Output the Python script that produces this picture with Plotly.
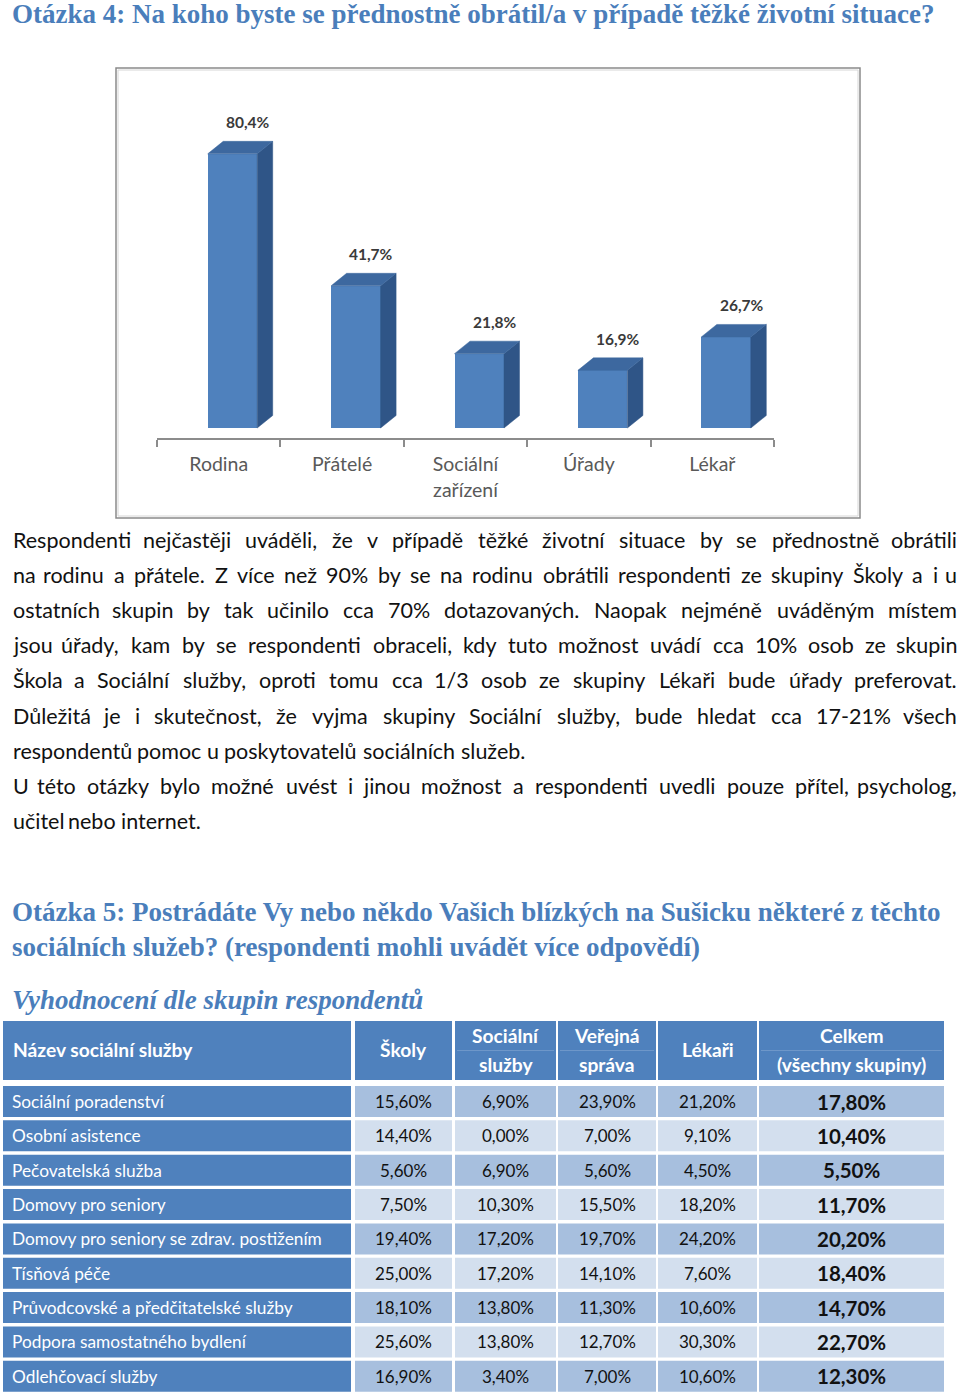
import unicodedata
import plotly.graph_objects as go

W, H = 960, 1398


def px(x):
    return x / W


def py(y):
    return 1 - y / H


# ---------------- data ----------------
q4_title = "Otázka 4: Na koho byste se přednostně obrátil/a v případě těžké životní situace?"
q4_categories = ["Rodina", "Přátelé", "Sociální<br>zařízení", "Úřady", "Lékař"]
q4_values = [80.4, 41.7, 21.8, 16.9, 26.7]

paragraph_lines = [
    "Respondenti nejčastěji uváděli, že v případě těžké životní situace by se přednostně obrátili",
    "na rodinu a přátele. Z více než 90% by se na rodinu obrátili respondenti ze skupiny Školy a i u",
    "ostatních skupin by tak učinilo cca 70% dotazovaných. Naopak nejméně uváděným místem",
    "jsou úřady, kam by se respondenti obraceli, kdy tuto možnost uvádí cca 10% osob ze skupin",
    "Škola a Sociální služby, oproti tomu cca 1/3 osob ze skupiny Lékaři bude úřady preferovat.",
    "Důležitá je i skutečnost, že vyjma skupiny Sociální služby, bude hledat cca 17-21% všech",
    "respondentů pomoc u poskytovatelů sociálních služeb.",
    "U této otázky bylo možné uvést i jinou možnost a respondenti uvedli pouze přítel, psycholog,",
    "učitel nebo internet.",
]
paragraph_justified = [True, True, True, True, True, True, False, True, False]

q5_title_lines = [
    "Otázka 5: Postrádáte Vy nebo někdo Vašich blízkých na Sušicku některé z těchto",
    "sociálních služeb? (respondenti mohli uvádět více odpovědí)",
]
q5_subtitle = "Vyhodnocení dle skupin respondentů"

table_header = ["Název sociální služby", "Školy", "Sociální<br>služby",
                "Veřejná<br>správa", "Lékaři", "Celkem<br>(všechny skupiny)"]
services = [
    "Sociální poradenství",
    "Osobní asistence",
    "Pečovatelská služba",
    "Domovy pro seniory",
    "Domovy pro seniory se zdrav. postižením",
    "Tísňová péče",
    "Průvodcovské a předčitatelské služby",
    "Podpora samostatného bydlení",
    "Odlehčovací služby",
]
skoly = [15.6, 14.4, 5.6, 7.5, 19.4, 25.0, 18.1, 25.6, 16.9]
socialni_sluzby = [6.9, 0.0, 6.9, 10.3, 17.2, 17.2, 13.8, 13.8, 3.4]
verejna_sprava = [23.9, 7.0, 5.6, 15.5, 19.7, 14.1, 11.3, 12.7, 7.0]
lekari = [21.2, 9.1, 4.5, 18.2, 24.2, 7.6, 10.6, 30.3, 10.6]
celkem = [17.8, 10.4, 5.5, 11.7, 20.2, 18.4, 14.7, 22.7, 12.3]

# ---------------- styles ----------------
BLUE = "#4F81BD"
HEAD_BLUE = "#4A7EBB"
ROW_DARK = "#A7BFDE"
ROW_LIGHT = "#D3DFEE"
SIDE = "#2F5587"
TOP = "#3D689F"
SANS = "Lato"
SERIF = "Liberation Serif"
HEAD_SIZE = 27

CW = {
    'a': .51, 'b': .56, 'c': .46, 'd': .56, 'e': .53, 'f': .32, 'g': .50, 'h': .56,
    'i': .24, 'j': .24, 'k': .50, 'l': .24, 'm': .85, 'n': .56, 'o': .56, 'p': .56,
    'q': .56, 'r': .37, 's': .43, 't': .35, 'u': .56, 'v': .51, 'w': .77, 'x': .50,
    'y': .51, 'z': .46,
    'A': .67, 'B': .63, 'C': .67, 'D': .74, 'E': .56, 'F': .54, 'G': .72, 'H': .75,
    'I': .28, 'J': .40, 'K': .65, 'L': .50, 'M': .90, 'N': .75, 'O': .79, 'P': .59,
    'Q': .79, 'R': .62, 'S': .53, 'T': .58, 'U': .72, 'V': .67, 'W': 1.0, 'X': .65,
    'Y': .62, 'Z': .60,
    ' ': .19, '.': .22, ',': .22, '%': .79, '/': .36, '-': .34, '?': .43,
    '(': .30, ')': .30, ':': .22,
}


def text_w(s, size):
    tot = 0.0
    for ch in s:
        base = unicodedata.normalize('NFD', ch)[0]
        tot += CW.get(base, 0.58 if base.isdigit() else 0.55)
    return tot * size


def pct(v):
    return f"{v:.2f}".replace('.', ',') + "%"


fig = go.Figure()
annotations = []
shapes = []

# ---------------- Question 4 heading ----------------
annotations.append(dict(text=f"<b>{q4_title}</b>", x=px(10), y=py(14), xref="paper", yref="paper",
                        xanchor="left", yanchor="middle", showarrow=False,
                        font=dict(family=SERIF, size=HEAD_SIZE, color=HEAD_BLUE)))

# ---------------- bar chart ----------------
unit_px = (774 - 157) / 5.0          # px per category
k = 3.41                              # px per percent
y_low = -10 / k
y_high = y_low + (438 - 80) / k
front_off = -11 / unit_px
front_w = 49.5 / unit_px
dx = 15.5 / unit_px
dy = 12.5 / k

idx = list(range(len(q4_values)))
fig.add_trace(go.Bar(x=idx, y=q4_values, width=front_w, offset=front_off,
                     marker=dict(color=BLUE, line=dict(width=0)), hoverinfo="skip",
                     showlegend=False))

side_x, side_y, top_x, top_y = [], [], [], []
for i, v in zip(idx, q4_values):
    xl = i + front_off
    xr = xl + front_w
    side_x += [xr, xr + dx, xr + dx, xr, xr, None]
    side_y += [0, dy, v + dy, v, 0, None]
    top_x += [xl, xl + dx, xr + dx, xr, xl, None]
    top_y += [v, v + dy, v + dy, v, v, None]
fig.add_trace(go.Scatter(x=side_x, y=side_y, fill="toself", fillcolor=SIDE, mode="lines",
                         line=dict(width=0.5, color=SIDE), hoverinfo="skip", showlegend=False))
fig.add_trace(go.Scatter(x=top_x, y=top_y, fill="toself", fillcolor=TOP, mode="lines",
                         line=dict(width=0.5, color=TOP), hoverinfo="skip", showlegend=False))

for i, v in zip(idx, q4_values):
    annotations.append(dict(text=f"<b>{v:.1f}%</b>".replace('.', ','), x=i + front_off + front_w / 2 + dx,
                            y=v + dy, xref="x", yref="y", yshift=19, xanchor="center",
                            yanchor="middle", showarrow=False,
                            font=dict(family=SANS, size=15.5, color="#3a3a3a")))

fig.update_xaxes(domain=[px(157), px(774)], range=[-0.5, 4.5], tickvals=idx,
                 ticktext=q4_categories, ticks="", showgrid=False, zeroline=False,
                 showline=True, linecolor="#8c8c8c", linewidth=1.5,
                 tickfont=dict(family=SANS, size=19.5, color="#595959"),
                 ticklabelstandoff=8,
                 minor=dict(ticks="outside", tick0=-0.5, dtick=1, ticklen=7,
                            tickcolor="#8c8c8c", tickwidth=1.5, showgrid=False),
                 fixedrange=True)
fig.update_yaxes(domain=[py(438), py(80)], range=[y_low, y_high], visible=False,
                 fixedrange=True)

shapes.append(dict(type="rect", xref="paper", yref="paper", x0=px(116), x1=px(860),
                   y0=py(518), y1=py(68), line=dict(color="#8a8a8a", width=1.5),
                   fillcolor="rgba(0,0,0,0)", layer="below"))
shapes.append(dict(type="rect", xref="paper", yref="paper", x0=px(118), x1=px(858),
                   y0=py(516), y1=py(70), line=dict(color="#d6d6d6", width=1),
                   fillcolor="rgba(0,0,0,0)", layer="below"))

# ---------------- paragraph ----------------
P_SIZE = 21.5
P_LEFT, P_RIGHT = 11, 959
for li, (line, just) in enumerate(zip(paragraph_lines, paragraph_justified)):
    yc = 540 + li * 35.1
    words = line.split(" ")
    widths = [text_w(w, P_SIZE) for w in words]
    if just and len(words) > 1:
        gap = (P_RIGHT - P_LEFT - sum(widths)) / (len(words) - 1)
    else:
        gap = 0.27 * P_SIZE
    xpos = P_LEFT
    for wi, (wd, ww) in enumerate(zip(words, widths)):
        if just and wi == len(words) - 1:
            annotations.append(dict(text=wd, x=px(P_RIGHT), y=py(yc), xref="paper", yref="paper",
                                    xanchor="right", yanchor="middle", showarrow=False,
                                    font=dict(family=SANS, size=P_SIZE, color="#111111")))
        elif wi == 0:
            annotations.append(dict(text=wd, x=px(P_LEFT), y=py(yc), xref="paper", yref="paper",
                                    xanchor="left", yanchor="middle", showarrow=False,
                                    font=dict(family=SANS, size=P_SIZE, color="#111111")))
        else:
            annotations.append(dict(text=wd, x=px(xpos + ww / 2), y=py(yc), xref="paper",
                                    yref="paper", xanchor="center", yanchor="middle",
                                    showarrow=False,
                                    font=dict(family=SANS, size=P_SIZE, color="#111111")))
        xpos += ww + gap

# ---------------- Question 5 heading ----------------
for li, t in enumerate(q5_title_lines):
    annotations.append(dict(text=f"<b>{t}</b>", x=px(10), y=py(912 + li * 34.5), xref="paper",
                            yref="paper", xanchor="left", yanchor="middle", showarrow=False,
                            font=dict(family=SERIF, size=HEAD_SIZE, color=HEAD_BLUE)))
annotations.append(dict(text=f"<b><i>{q5_subtitle}</i></b>", x=px(10), y=py(1000), xref="paper",
                        yref="paper", xanchor="left", yanchor="middle", showarrow=False,
                        font=dict(family=SERIF, size=HEAD_SIZE, color=HEAD_BLUE)))

# ---------------- table ----------------
col_edges = [(3, 351), (355, 452), (455, 556), (558, 656), (658, 757), (759, 944)]
head_top, head_bot = 1021, 1080
row_top0, row_pitch, row_h = 1086, 34.35, 31

# header
for ci, ((x0, x1), htxt) in enumerate(zip(col_edges, table_header)):
    shapes.append(dict(type="rect", xref="paper", yref="paper", x0=px(x0), x1=px(x1),
                       y0=py(head_bot), y1=py(head_top), line=dict(width=0), fillcolor=BLUE,
                       layer="below"))
    parts = htxt.split("<br>")
    ymid = (head_top + head_bot) / 2 - 1
    if len(parts) == 2:
        shapes.append(dict(type="line", xref="paper", yref="paper", x0=px(x0 + 2), x1=px(x1 - 2),
                           y0=py(ymid + 1), y1=py(ymid + 1),
                           line=dict(color="rgba(255,255,255,0.18)", width=1)))
        ys = [ymid - 14.5, ymid + 14.5]
    else:
        ys = [ymid]
    for ptxt, yy in zip(parts, ys):
        if ci == 0:
            annotations.append(dict(text=f"<b>{ptxt}</b>", x=px(11), y=py(yy), xref="paper",
                                    yref="paper", xanchor="left", yanchor="middle",
                                    showarrow=False,
                                    font=dict(family=SANS, size=19.2, color="white")))
        else:
            annotations.append(dict(text=f"<b>{ptxt}</b>", x=px((x0 + x1) / 2), y=py(yy),
                                    xref="paper", yref="paper", xanchor="center",
                                    yanchor="middle", showarrow=False,
                                    font=dict(family=SANS, size=19.2, color="white")))

# body
value_cols = [skoly, socialni_sluzby, verejna_sprava, lekari, celkem]
for ri, name in enumerate(services):
    top = row_top0 + ri * row_pitch
    bot = top + row_h
    ymid = (top + bot) / 2
    fill = ROW_DARK if ri % 2 == 0 else ROW_LIGHT
    x0, x1 = col_edges[0]
    shapes.append(dict(type="rect", xref="paper", yref="paper", x0=px(x0), x1=px(x1),
                       y0=py(bot), y1=py(top), line=dict(width=0), fillcolor=BLUE,
                       layer="below"))
    annotations.append(dict(text=name, x=px(10), y=py(ymid), xref="paper", yref="paper",
                            xanchor="left", yanchor="middle", showarrow=False,
                            font=dict(family=SANS, size=17.3, color="white")))
    for ci, col in enumerate(value_cols):
        x0, x1 = col_edges[ci + 1]
        shapes.append(dict(type="rect", xref="paper", yref="paper", x0=px(x0), x1=px(x1),
                           y0=py(bot), y1=py(top), line=dict(width=0), fillcolor=fill,
                           layer="below"))
        is_total = ci == len(value_cols) - 1
        txt = f"<b>{pct(col[ri])}</b>" if is_total else pct(col[ri])
        annotations.append(dict(text=txt, x=px((x0 + x1) / 2), y=py(ymid), xref="paper",
                                yref="paper", xanchor="center", yanchor="middle",
                                showarrow=False,
                                font=dict(family=SANS, size=20.5 if is_total else 17,
                                          color="#111111")))

fig.update_layout(width=W, height=H, margin=dict(l=0, r=0, t=0, b=0),
                  paper_bgcolor="white", plot_bgcolor="white", showlegend=False,
                  bargap=0, annotations=annotations, shapes=shapes)

fig.write_html("out.html", config={"displayModeBar": False})
